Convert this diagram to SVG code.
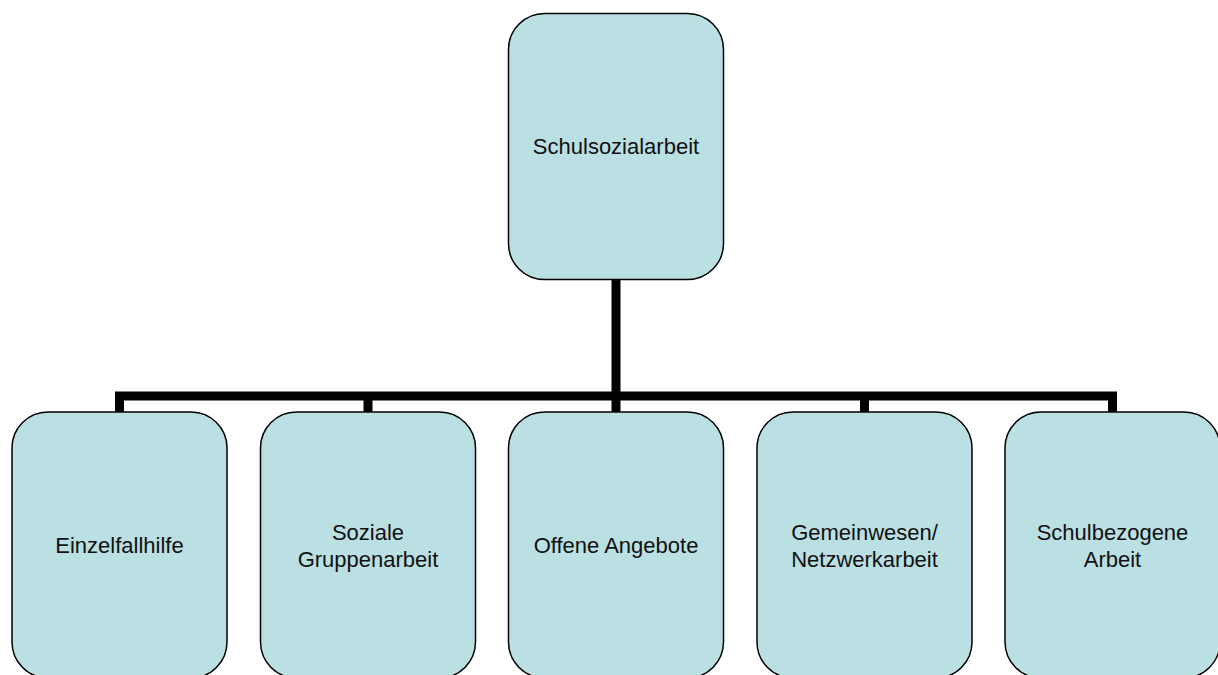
<svg xmlns="http://www.w3.org/2000/svg" width="1218" height="675" viewBox="0 0 1218 675">
<style>
.node rect{fill:#BBE0E3;stroke:#000;stroke-width:1.5}
.node text{font-family:"Liberation Sans",Arial,sans-serif;font-size:22px;fill:#111;text-anchor:middle}
.conn{fill:none;stroke:#000;stroke-width:9;stroke-linejoin:miter;stroke-linecap:butt}
</style>
<rect width="1218" height="675" fill="#fff"/>
<g id="connectors">
<path class="conn" d="M616 279V396"/>
<path class="conn" d="M119.5 412V396H1112.5V412"/>
<path class="conn" d="M368 396V412"/>
<path class="conn" d="M616 396V412"/>
<path class="conn" d="M864.5 396V412"/>
</g>
<g id="node-root" class="node">
<rect x="508.5" y="13.5" width="215" height="266" rx="36"/>
<text x="616" y="154">Schulsozialarbeit</text>
</g>
<g id="node-einzelfallhilfe" class="node">
<rect x="12" y="412" width="215" height="266" rx="36"/>
<text x="119.5" y="553">Einzelfallhilfe</text>
</g>
<g id="node-gruppenarbeit" class="node">
<rect x="260.5" y="412" width="215" height="266" rx="36"/>
<text x="368" y="540">Soziale</text>
<text x="368" y="567">Gruppenarbeit</text>
</g>
<g id="node-offene" class="node">
<rect x="508.5" y="412" width="215" height="266" rx="36"/>
<text x="616" y="553">Offene Angebote</text>
</g>
<g id="node-gemeinwesen" class="node">
<rect x="757" y="412" width="215" height="266" rx="36"/>
<text x="864.5" y="540">Gemeinwesen/</text>
<text x="864.5" y="567">Netzwerkarbeit</text>
</g>
<g id="node-schulbezogen" class="node">
<rect x="1005" y="412" width="215" height="266" rx="36"/>
<text x="1112.5" y="540">Schulbezogene</text>
<text x="1112.5" y="567">Arbeit</text>
</g>
</svg>
